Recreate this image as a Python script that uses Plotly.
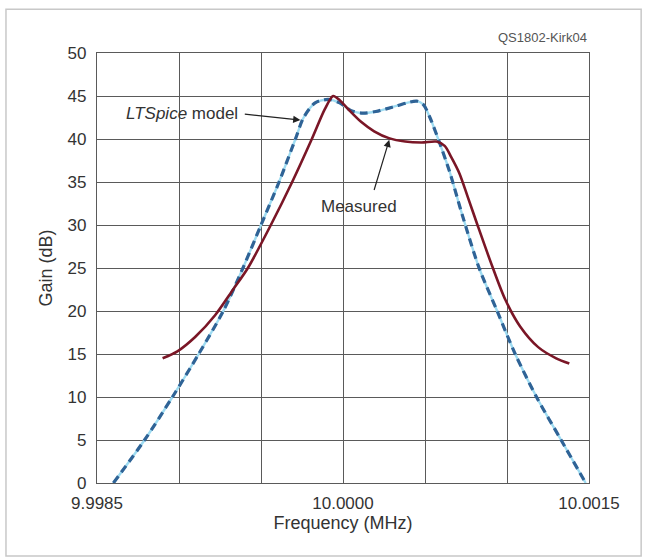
import plotly.graph_objects as go

# ---- data ----
freq_model = [9.99860, 9.99879, 9.99896, 9.99912, 9.99927, 9.99939, 9.99950, 9.99961, 9.99971,
              9.99976, 9.99983, 9.99991, 9.99998, 10.00005, 10.00012, 10.00020, 10.00030,
              10.00039, 10.00045, 10.00049, 10.00053, 10.00059, 10.00065, 10.00073, 10.00083,
              10.00094, 10.00105, 10.00118, 10.00133, 10.00148]
gain_model = [0, 5, 10, 15, 20, 25, 30, 35, 40,
              42.5, 44.2, 44.6, 44.2, 43.3, 43.0, 43.2, 43.7,
              44.2, 44.4, 44.0, 42.5, 39.5, 36.2, 31, 25,
              20, 15, 10, 5, 0]

freq_meas = [9.99890, 9.99899, 9.99910, 9.99922, 9.99933, 9.99942, 9.99956, 9.99969, 9.99981,
             9.99989, 9.99994, 9.99998, 10.00004, 10.00011, 10.00019, 10.00028, 10.00038,
             10.00048, 10.00057, 10.00062, 10.00066, 10.00071, 10.00076, 10.00082, 10.00091,
             10.00099, 10.00108, 10.00119, 10.00130, 10.00138]
gain_meas = [14.5, 15.3, 17.0, 19.5, 22.5, 25.0, 30.0, 35.0, 40.0,
             43.5, 45.0, 44.5, 43.3, 42.0, 40.9, 40.1, 39.7,
             39.6, 39.7, 39.2, 37.9, 36.0, 33.3, 30.0, 25.2,
             21.3, 18.2, 15.8, 14.5, 13.9]

x_tickvals = [9.9985, 9.9990, 9.9995, 10.0000, 10.0005, 10.0010, 10.0015]
x_ticktext = ["9.9985", "", "", "10.0000", "", "", "10.0015"]
y_tickvals = [0, 5, 10, 15, 20, 25, 30, 35, 40, 45, 50]

FONT = "Liberation Sans, Arial, sans-serif"
GRID = "#5a5a5a"

fig = go.Figure()

# LTSpice model: light cyan underlay + dark blue dashes
fig.add_trace(go.Scatter(x=freq_model, y=gain_model, mode="lines",
                         line=dict(color="#9fdcf2", width=2.4, shape="spline", smoothing=0.8),
                         hoverinfo="skip", showlegend=False))
fig.add_trace(go.Scatter(x=freq_model, y=gain_model, mode="lines", name="LTSpice model",
                         line=dict(color="#2f6396", width=3.2, dash="8px,5px",
                                   shape="spline", smoothing=0.8),
                         showlegend=False))
# Measured
fig.add_trace(go.Scatter(x=freq_meas, y=gain_meas, mode="lines", name="Measured",
                         line=dict(color="#7a1626", width=2.6, shape="spline", smoothing=0.8),
                         showlegend=False))

fig.update_xaxes(range=[9.9985, 10.0015], tickvals=x_tickvals, ticktext=x_ticktext,
                 showgrid=True, gridcolor=GRID, gridwidth=1.3,
                 showline=True, linecolor=GRID, linewidth=1.3, mirror=True,
                 ticks="", zeroline=False, automargin=False, ticklabelstandoff=4,
                 tickfont=dict(family=FONT, size=17, color="#333333"),
                 title=dict(text="Frequency (MHz)", font=dict(family=FONT, size=18, color="#333333"),
                            standoff=4))
fig.update_yaxes(range=[0, 50], tickvals=y_tickvals,
                 showgrid=True, gridcolor=GRID, gridwidth=1.3,
                 showline=True, linecolor=GRID, linewidth=1.3, mirror=True,
                 ticks="", zeroline=False, automargin=False, ticklabelstandoff=6,
                 tickfont=dict(family=FONT, size=17, color="#333333"),
                 title=dict(text="Gain (dB)", font=dict(family=FONT, size=18, color="#333333"),
                            standoff=10))

# annotations
fig.add_annotation(x=9.999374, y=43.0, xref="x", yref="y", text="<i>LTSpice</i> model",
                   showarrow=False, xanchor="right", yanchor="middle",
                   font=dict(family=FONT, size=17, color="#333333"))
fig.add_annotation(x=9.999740, y=42.2, ax=9.999392, ay=42.9, xref="x", yref="y",
                   axref="x", ayref="y", text="", showarrow=True,
                   arrowhead=2, arrowsize=1.2, arrowwidth=1.2, arrowcolor="#222222")
fig.add_annotation(x=10.000099, y=32.1, xref="x", yref="y", text="Measured",
                   showarrow=False, xanchor="center", yanchor="middle",
                   font=dict(family=FONT, size=17, color="#333333"))
fig.add_annotation(x=10.000282, y=39.9, ax=10.000187, ay=33.9, xref="x", yref="y",
                   axref="x", ayref="y", text="", showarrow=True,
                   arrowhead=2, arrowsize=1.2, arrowwidth=1.2, arrowcolor="#222222")
fig.add_annotation(x=1.0, y=1.015, xref="paper", yref="paper", text="QS1802-Kirk04",
                   showarrow=False, xanchor="right", yanchor="bottom",
                   font=dict(family=FONT, size=13, color="#555555"))

# outer frame of the figure
fig.add_shape(type="rect", xref="paper", yref="paper",
              x0=-0.185, x1=1.106, y0=-0.17, y1=1.102,
              line=dict(color="#c8c8c8", width=1.5), fillcolor="rgba(0,0,0,0)", layer="below")

fig.update_layout(width=647, height=560,
                  margin=dict(l=97, r=58, t=53, b=77),
                  paper_bgcolor="white", plot_bgcolor="white",
                  font=dict(family=FONT, color="#333333"),
                  showlegend=False)

fig.write_html("out.html", config={"displayModeBar": False},
               post_script="document.body.style.margin='0';document.body.style.overflow='hidden';")
